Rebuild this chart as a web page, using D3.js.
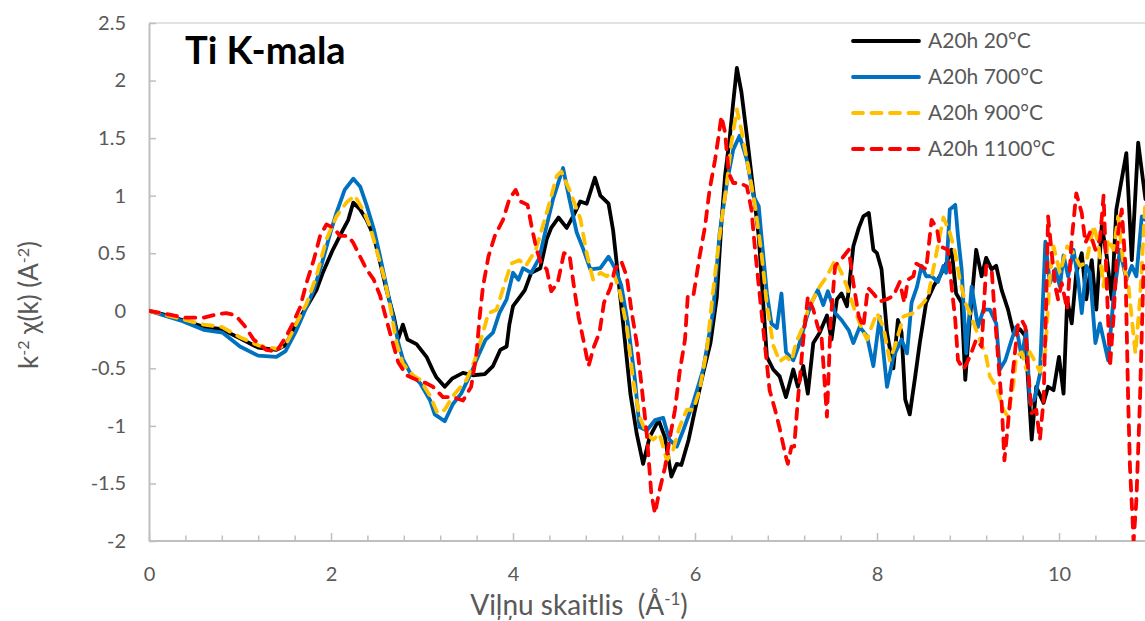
<!DOCTYPE html>
<html>
<head>
<meta charset="utf-8">
<script src="https://cdn.jsdelivr.net/npm/d3@7"></script>
<style>
  html, body { margin: 0; padding: 0; background: #fff; }
  svg { display: block; font-family: Lato, "Open Sans", sans-serif; }
  .pre { white-space: pre; }
</style>
</head>
<body>
<svg id="chart" width="1145" height="621"></svg>
<script>
// Wave number k (Å^-1) and k^-2 chi(k) for each annealing temperature
const k20 = [0,0.2,0.4,0.6,0.8,1.0,1.2,1.4,1.5,1.62,1.73,1.84,1.91,2.02,2.13,2.19,2.245,2.32,2.39,2.47,2.54,2.61,2.69,2.74,2.79,2.84,2.94,3.05,3.12,3.16,3.25,3.33,3.45,3.56,3.69,3.78,3.86,3.93,3.96,4.0,4.08,4.13,4.2,4.3,4.37,4.42,4.5,4.59,4.66,4.74,4.81,4.9,4.96,5.05,5.1,5.14,5.21,5.29,5.36,5.43,5.5,5.6,5.67,5.74,5.8,5.85,5.93,6.0,6.09,6.17,6.24,6.29,6.33,6.38,6.42,6.46,6.51,6.57,6.64,6.7,6.73,6.79,6.86,6.93,7.0,7.08,7.13,7.19,7.24,7.3,7.37,7.45,7.5,7.56,7.61,7.67,7.74,7.8,7.85,7.91,7.96,8.0,8.05,8.11,8.18,8.23,8.27,8.31,8.36,8.42,8.47,8.54,8.62,8.69,8.76,8.82,8.87,8.93,8.97,9.02,9.09,9.15,9.2,9.26,9.31,9.37,9.44,9.5,9.57,9.63,9.7,9.75,9.83,9.88,9.94,10.0,10.05,10.09,10.14,10.19,10.25,10.3,10.36,10.41,10.47,10.52,10.58,10.63,10.74,10.8,10.87,10.95];
const chi20 = [0,-0.04,-0.09,-0.14,-0.16,-0.24,-0.32,-0.34,-0.3,-0.11,0.03,0.18,0.33,0.53,0.7,0.79,0.94,0.88,0.79,0.65,0.42,0.18,-0.05,-0.24,-0.12,-0.25,-0.29,-0.4,-0.52,-0.58,-0.66,-0.59,-0.54,-0.56,-0.55,-0.48,-0.34,-0.31,-0.12,0.04,0.125,0.18,0.33,0.37,0.62,0.72,0.81,0.72,0.82,0.95,0.93,1.156,1.0,0.93,0.7,0.41,-0.11,-0.72,-1.07,-1.33,-1.1,-0.95,-1.1,-1.44,-1.33,-1.34,-1.12,-0.86,-0.54,-0.28,0.12,0.76,1.17,1.49,1.81,2.11,1.9,1.52,1.05,0.65,0.3,-0.4,-0.51,-0.57,-0.75,-0.51,-0.66,-0.48,-0.72,-0.28,-0.19,-0.04,-0.25,0.1,0.15,0.04,0.56,0.72,0.82,0.85,0.53,0.5,0.36,-0.19,-0.5,-0.08,-0.19,-0.77,-0.9,-0.57,-0.28,0.07,0.21,0.3,0.41,0.53,0.15,0.07,-0.6,-0.08,0.53,0.3,0.46,0.36,0.39,0.18,0.01,-0.19,-0.16,-0.22,-1.12,-0.66,-0.8,-0.66,-0.69,-0.4,-0.72,0.1,-0.11,0.33,0.5,0.1,0.44,0.01,0.74,0.5,0.1,0.88,1.37,0.44,1.46,0.97];

const k700 = [0,0.2,0.37,0.6,0.81,1.0,1.2,1.4,1.5,1.62,1.73,1.81,1.9,1.99,2.06,2.15,2.245,2.32,2.39,2.47,2.54,2.61,2.69,2.74,2.79,2.87,2.98,3.09,3.14,3.25,3.34,3.43,3.54,3.63,3.7,3.78,3.85,3.93,4.0,4.06,4.11,4.2,4.29,4.37,4.44,4.55,4.62,4.7,4.77,4.85,4.96,5.05,5.12,5.19,5.26,5.34,5.39,5.47,5.56,5.65,5.72,5.8,5.87,5.98,6.09,6.2,6.27,6.35,6.42,6.49,6.57,6.64,6.7,6.73,6.79,6.84,6.9,6.95,7.0,7.08,7.15,7.23,7.28,7.35,7.41,7.46,7.54,7.61,7.69,7.74,7.81,7.89,7.96,8.03,8.11,8.18,8.27,8.33,8.38,8.44,8.49,8.54,8.6,8.67,8.73,8.76,8.8,8.86,8.89,8.93,8.98,9.04,9.11,9.17,9.24,9.31,9.35,9.41,9.48,9.53,9.59,9.64,9.68,9.73,9.79,9.85,9.9,9.96,10.01,10.05,10.1,10.16,10.21,10.25,10.3,10.34,10.4,10.45,10.54,10.6,10.67,10.74,10.8,10.85,10.91,10.95];
const chi700 = [0,-0.05,-0.09,-0.165,-0.19,-0.31,-0.39,-0.4,-0.35,-0.17,0.03,0.18,0.41,0.67,0.85,1.05,1.147,1.08,0.92,0.71,0.47,0.21,-0.08,-0.28,-0.42,-0.54,-0.63,-0.78,-0.9,-0.96,-0.81,-0.72,-0.54,-0.37,-0.25,-0.19,-0.02,0.1,0.33,0.27,0.37,0.33,0.46,0.74,0.97,1.24,0.97,0.68,0.54,0.36,0.37,0.47,0.37,0.22,-0.1,-0.6,-1.01,-1.04,-0.95,-0.93,-1.12,-1.18,-1.04,-0.8,-0.51,0.0,0.67,1.11,1.4,1.52,1.31,1.0,0.91,0.65,0.15,-0.11,-0.15,0.15,-0.36,-0.43,-0.28,-0.05,0.07,0.18,0.05,0.17,-0.02,-0.08,-0.17,-0.28,-0.14,-0.22,-0.48,-0.05,-0.66,-0.4,-0.25,-0.37,0.07,0.21,0.39,0.3,0.3,0.25,0.39,0.33,0.88,0.92,0.65,0.36,-0.37,0.21,-0.14,0.01,0.01,-0.11,-0.51,-0.43,-0.25,-0.14,-0.4,-0.17,-0.8,-0.77,-0.55,0.6,0.24,0.36,0.21,0.48,0.3,0.53,0.27,-0.02,0.39,0.33,-0.28,-0.11,-0.43,0.12,0.53,0.27,0.39,0.3,0.82,0.79];

const k900 = [0,0.2,0.4,0.6,0.8,1.0,1.2,1.4,1.5,1.62,1.73,1.84,1.95,2.06,2.17,2.26,2.35,2.43,2.5,2.58,2.65,2.72,2.79,2.9,2.98,3.09,3.17,3.25,3.34,3.49,3.58,3.67,3.73,3.82,3.91,3.98,4.07,4.14,4.25,4.37,4.48,4.53,4.62,4.74,4.81,4.88,4.96,5.03,5.1,5.17,5.25,5.32,5.39,5.47,5.54,5.61,5.69,5.76,5.83,5.91,5.98,6.05,6.13,6.2,6.27,6.35,6.4,6.46,6.51,6.59,6.66,6.73,6.79,6.86,6.93,7.0,7.06,7.11,7.17,7.24,7.31,7.37,7.45,7.54,7.61,7.67,7.74,7.81,7.89,7.94,8.0,8.07,8.14,8.2,8.29,8.4,8.51,8.56,8.66,8.73,8.8,8.86,8.91,8.97,9.02,9.13,9.2,9.24,9.31,9.39,9.44,9.5,9.53,9.59,9.64,9.68,9.75,9.79,9.85,9.9,9.94,10.01,10.09,10.16,10.23,10.3,10.38,10.43,10.49,10.54,10.6,10.65,10.71,10.76,10.84,10.89,10.95];
const chi900 = [0,-0.04,-0.08,-0.12,-0.14,-0.23,-0.3,-0.33,-0.3,-0.11,0.06,0.3,0.62,0.82,0.94,1.0,0.88,0.73,0.53,0.3,0.04,-0.28,-0.46,-0.56,-0.6,-0.74,-0.89,-0.86,-0.74,-0.6,-0.43,-0.19,-0.02,0.01,0.24,0.41,0.44,0.39,0.53,0.85,1.17,1.21,1.05,0.8,0.5,0.27,0.33,0.3,0.34,0.18,-0.14,-0.6,-0.92,-1.07,-1.12,-1.07,-1.3,-1.21,-1.01,-0.86,-0.86,-0.69,-0.34,0.18,0.65,1.11,1.46,1.75,1.57,1.23,0.91,0.5,0.05,-0.3,-0.44,-0.4,-0.44,-0.28,-0.17,0.0,0.12,0.21,0.3,0.44,0.33,0.21,0.04,-0.11,-0.25,-0.14,-0.02,-0.14,-0.43,-0.3,-0.05,-0.02,0.07,0.12,0.53,0.81,0.68,0.5,0.27,0.07,-0.02,-0.25,-0.4,-0.57,-0.66,-0.86,-0.92,-0.63,-0.4,-0.36,-0.51,-0.36,-0.46,-0.53,-0.35,0.3,0.56,0.33,0.56,0.5,0.39,0.42,0.74,0.59,0.21,0.62,0.53,0.82,0.39,0.24,-0.37,0.1,0.97];

const k1100 = [0,0.2,0.4,0.6,0.75,0.85,0.95,1.05,1.15,1.29,1.4,1.51,1.58,1.66,1.73,1.81,1.88,1.95,2.03,2.1,2.19,2.245,2.32,2.39,2.47,2.54,2.61,2.69,2.74,2.83,2.94,3.05,3.12,3.23,3.34,3.45,3.54,3.6,3.63,3.67,3.73,3.8,3.89,3.96,4.03,4.08,4.16,4.21,4.26,4.31,4.37,4.42,4.49,4.56,4.62,4.67,4.72,4.78,4.83,4.89,4.95,5.0,5.07,5.12,5.19,5.25,5.3,5.36,5.41,5.47,5.52,5.56,5.61,5.67,5.72,5.78,5.83,5.89,5.92,5.98,6.05,6.11,6.16,6.22,6.26,6.29,6.33,6.37,6.42,6.49,6.57,6.62,6.66,6.72,6.77,6.82,6.88,6.93,6.99,7.02,7.06,7.09,7.13,7.19,7.24,7.3,7.35,7.39,7.45,7.49,7.54,7.61,7.69,7.74,7.8,7.85,7.9,7.96,8.03,8.11,8.18,8.25,8.3,8.34,8.4,8.43,8.54,8.6,8.66,8.69,8.78,8.82,8.86,8.89,8.95,9.02,9.09,9.15,9.2,9.26,9.29,9.33,9.37,9.4,9.44,9.48,9.55,9.59,9.63,9.66,9.7,9.75,9.79,9.83,9.86,9.88,9.92,9.96,9.99,10.03,10.09,10.14,10.19,10.25,10.29,10.34,10.4,10.45,10.49,10.52,10.56,10.6,10.65,10.69,10.73,10.76,10.78,10.82,10.85,10.89,10.93];
const chi1100 = [0,-0.03,-0.06,-0.06,-0.03,-0.02,-0.04,-0.13,-0.25,-0.34,-0.355,-0.22,-0.11,0.03,0.24,0.44,0.65,0.75,0.72,0.65,0.65,0.59,0.47,0.36,0.27,0.13,-0.08,-0.31,-0.45,-0.56,-0.6,-0.63,-0.66,-0.75,-0.75,-0.78,-0.66,-0.37,-0.08,0.21,0.47,0.65,0.79,0.97,1.05,0.95,0.92,0.71,0.53,0.41,0.36,0.17,0.24,0.5,0.49,0.21,-0.05,-0.28,-0.48,-0.31,-0.19,0.07,0.2,0.36,0.43,0.3,0.01,-0.28,-0.63,-1.07,-1.59,-1.76,-1.56,-1.36,-1.12,-0.86,-0.54,-0.25,0.12,0.12,0.47,0.73,1.05,1.31,1.52,1.69,1.55,1.2,1.11,1.11,1.08,0.88,0.53,0.07,-0.31,-0.69,-0.86,-1.02,-1.24,-1.33,-1.18,-1.18,-0.78,-0.25,0.12,0.01,-0.14,-0.22,-0.92,-0.1,0.39,0.45,0.53,0.24,-0.05,-0.14,0.2,0.15,0.08,0.1,0.13,0.25,0.07,0.27,0.3,0.41,0.36,0.79,0.71,0.56,0.53,0.21,-0.08,-0.43,-0.51,-0.4,-0.25,-0.31,0.39,0.36,0.01,-0.4,-0.8,-1.3,-0.98,-0.63,-0.11,-0.08,-0.14,-0.51,-0.89,-0.86,-1.12,-0.78,0.1,0.82,0.5,0.21,0.1,0.24,0.01,0.62,1.02,0.85,0.59,0.68,0.53,0.62,1.0,0.33,-0.49,-0.05,0.68,0.88,0.39,-0.77,-1.36,-2.0,-1.65,-0.77,0.39];

const seriesNames = ["A20h 20°C", "A20h 700°C", "A20h 900°C", "A20h 1100°C"];
const seriesColors = ["#000000", "#0070C0", "#FFC000", "#FF0000"];
const seriesDashed = [false, false, true, true];

const yTicks = [-2, -1.5, -1, -0.5, 0, 0.5, 1, 1.5, 2, 2.5];
const yTickLabels = ["-2", "-1.5", "-1", "-0.5", "0", "0.5", "1", "1.5", "2", "2.5"];
const xTicks = [0, 2, 4, 6, 8, 10];
const xTickLabels = ["0", "2", "4", "6", "8", "10"];
const xMinorTicks = [0.4,0.8,1.2,1.6,2.4,2.8,3.2,3.6,4.4,4.8,5.2,5.6,6.4,6.8,7.2,7.6,8.4,8.8,9.2,9.6,10.4,10.8];

const svg = d3.select("#chart");
const W = 1145, H = 621;
const plot = { left: 149, top: 23, right: 1241, bottom: 541 };

const x = d3.scaleLinear().domain([0, 12]).range([plot.left, plot.right]);
const y = d3.scaleLinear().domain([-2, 2.5]).range([plot.bottom, plot.top]);

svg.append("rect").attr("width", W).attr("height", H).attr("fill", "#fff");

// plot-area top border
svg.append("line")
  .attr("x1", plot.left).attr("x2", W)
  .attr("y1", plot.top).attr("y2", plot.top)
  .attr("stroke", "#D9D9D9").attr("stroke-width", 1.5);

const axisColor = "#BFBFBF";
const textColor = "#595959";
const fontStack = "Lato, 'Open Sans', sans-serif";

// y axis, ticks pointing inward
const yAxis = d3.axisLeft(y)
  .tickValues(yTicks)
  .tickFormat((d, i) => yTickLabels[i])
  .tickSizeInner(-7).tickSizeOuter(0).tickPadding(23);
const gy = svg.append("g").attr("transform", `translate(${plot.left},0)`).call(yAxis);

// x axis minor ticks
const xMinor = d3.axisBottom(x).tickValues(xMinorTicks).tickFormat("")
  .tickSizeInner(-5.5).tickSizeOuter(0);
const gxm = svg.append("g").attr("transform", `translate(0,${plot.bottom})`).call(xMinor);
gxm.select(".domain").remove();

// x axis major ticks with labels
const xAxis = d3.axisBottom(x)
  .tickValues(xTicks)
  .tickFormat((d, i) => xTickLabels[i])
  .tickSizeInner(-8).tickSizeOuter(0).tickPadding(26);
const gx = svg.append("g").attr("transform", `translate(0,${plot.bottom})`).call(xAxis);
gx.select(".domain").attr("d", `M${plot.left},0H${W}`);

[gy, gx, gxm].forEach(g => {
  g.select(".domain").attr("stroke", axisColor).attr("stroke-width", 2);
  g.selectAll(".tick line").attr("stroke", axisColor).attr("stroke-width", 1.5);
  g.selectAll(".tick text").attr("fill", textColor)
    .style("font-family", fontStack).style("font-size", "20px");
});

// clip lines to the plotting area
svg.append("clipPath").attr("id", "plotClip")
  .append("rect")
  .attr("x", plot.left).attr("y", plot.top - 1)
  .attr("width", plot.right - plot.left).attr("height", plot.bottom - plot.top + 1);

const seriesK = [k20, k700, k900, k1100];
const seriesChi = [chi20, chi700, chi900, chi1100];

const line = d3.line().x(d => x(d[0])).y(d => y(d[1]));

const lines = svg.append("g").attr("clip-path", "url(#plotClip)");
seriesK.forEach((ks, i) => {
  lines.append("path")
    .datum(d3.zip(ks, seriesChi[i]))
    .attr("d", line)
    .attr("fill", "none")
    .attr("stroke", seriesColors[i])
    .attr("stroke-width", 3.8)
    .attr("stroke-linejoin", "round")
    .attr("stroke-linecap", "round")
    .attr("stroke-dasharray", seriesDashed[i] ? "10 8.5" : null);
});

// title
svg.append("text")
  .attr("x", 185).attr("y", 64)
  .attr("fill", "#000")
  .style("font-family", fontStack)
  .style("font-weight", "bold").style("font-size", "38px")
  .text("Ti K-mala");

// legend
const legend = svg.append("g");
seriesNames.forEach((name, i) => {
  const ly = 41 + i * 36;
  legend.append("line")
    .attr("x1", 853).attr("x2", 919).attr("y1", ly).attr("y2", ly)
    .attr("stroke", seriesColors[i]).attr("stroke-width", 3.8)
    .attr("stroke-linecap", "round")
    .attr("stroke-dasharray", seriesDashed[i] ? "10 8.5" : null);
  legend.append("text")
    .attr("x", 928).attr("y", ly).attr("dy", "0.35em")
    .attr("fill", textColor)
    .style("font-family", fontStack).style("font-size", "21px")
    .text(name);
});

// x axis title
const xt = svg.append("text")
  .attr("class", "pre")
  .attr("x", 579).attr("y", 615)
  .attr("text-anchor", "middle")
  .attr("fill", textColor)
  .style("font-family", fontStack).style("font-size", "28px");
xt.append("tspan").text("Viļņu skaitlis  (Å");
xt.append("tspan").attr("baseline-shift", "super").style("font-size", "17px").text("-1");
xt.append("tspan").text(")");

// y axis title
const yt = svg.append("text")
  .attr("class", "pre")
  .attr("transform", "translate(38,305) rotate(-90)")
  .attr("text-anchor", "middle")
  .attr("fill", textColor)
  .style("font-family", fontStack).style("font-size", "26px");
yt.append("tspan").text("k");
yt.append("tspan").attr("baseline-shift", "super").style("font-size", "16px").text("-2");
yt.append("tspan").text(" χ(k) (A");
yt.append("tspan").attr("baseline-shift", "super").style("font-size", "16px").text("-2");
yt.append("tspan").text(")");
</script>
</body>
</html>
